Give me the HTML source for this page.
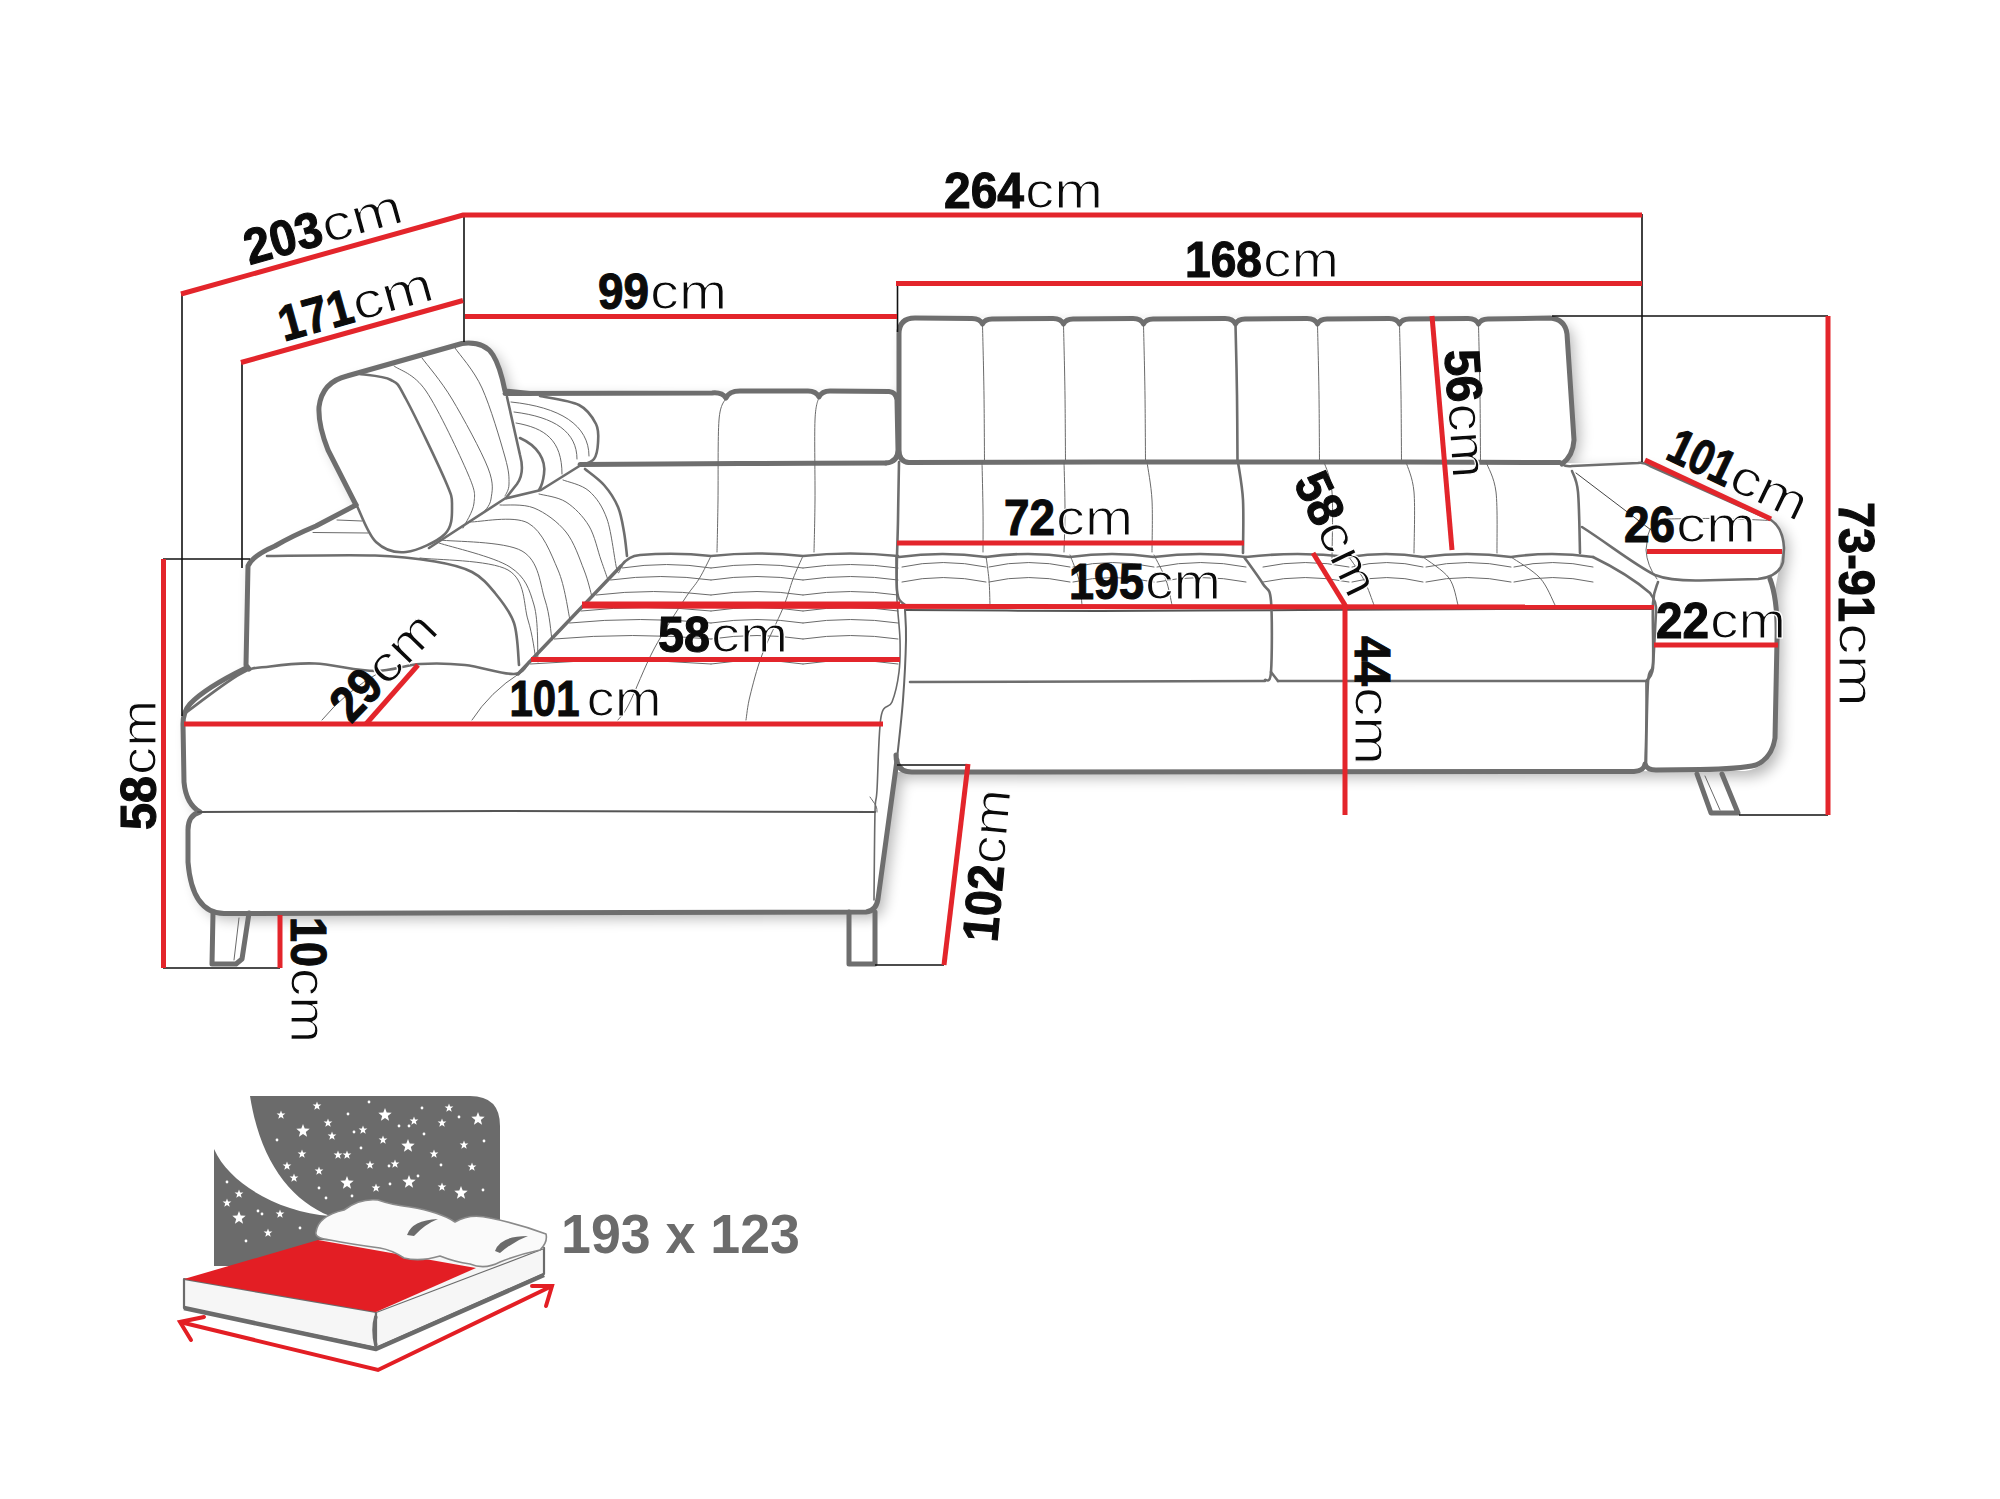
<!DOCTYPE html>
<html><head><meta charset="utf-8"><style>html,body{margin:0;padding:0;background:#fff;width:2000px;height:1499px;overflow:hidden}svg{display:block}</style></head>
<body><svg width="2000" height="1499" viewBox="0 0 2000 1499">
<rect width="2000" height="1499" fill="#fff"/>
<defs><filter id="sh" x="-10%" y="-10%" width="120%" height="120%"><feGaussianBlur stdDeviation="7"/></filter></defs>
<path d="M319,407 Q322,382 347,376 L462,343.5 Q484,341 493,355 Q500,366 505,391 L897,393 L899,334 Q899,318 915,318 L1550,318 Q1565,319 1567,334 L1574,425 Q1575,452 1562,463 L1646,464 L1771,520 Q1783,528 1783,548 L1775,590 L1777,640 L1775,740 Q1770,768 1745,771 L896,772 L878,899 Q876,911 866,912 L224,913.5 Q192,913 188,862 L188,830 Q188,815 200,812 Q186,804 184,782 L183,724 Q183,712 190,704 Q205,688 246,668 L246,568 L249,560 L285,542 L356,505 L328,450 Q318,425 319,407 Z" fill="#000" opacity="0.28" transform="translate(6,6)" filter="url(#sh)"/>
<path d="M319,407 Q322,382 347,376 L462,343.5 Q484,341 493,355 Q500,366 505,391 L897,393 L899,334 Q899,318 915,318 L1550,318 Q1565,319 1567,334 L1574,425 Q1575,452 1562,463 L1646,464 L1771,520 Q1783,528 1783,548 L1775,590 L1777,640 L1775,740 Q1770,768 1745,771 L896,772 L878,899 Q876,911 866,912 L224,913.5 Q192,913 188,862 L188,830 Q188,815 200,812 Q186,804 184,782 L183,724 Q183,712 190,704 Q205,688 246,668 L246,568 L249,560 L285,542 L356,505 L328,450 Q318,425 319,407 Z" fill="#fff"/>
<path d="M909,462.5 Q899,462 899,450 L899,334 Q899,318 915,318 L972,318.5 Q980,318.5 982.5,324 Q985,319 992,319 L1053,318.5 Q1061,318.5 1063.5,324 Q1066,319 1073,319 L1133,318.5 Q1141,318.5 1143.5,324 Q1146,319 1153,319 L1225,318.5 Q1233,318.5 1235.5,324 Q1238,319 1245,319 L1307,318.5 Q1315,318.5 1317.5,324 Q1320,319 1327,319 L1389,318.5 Q1397,318.5 1399.5,324 Q1402,319 1409,319 L1468,318.5 Q1476,318.5 1478.5,324 Q1481,319 1488,319 L1550,318 Q1565,319 1567,334 L1574,440 Q1573,456 1562,464" stroke="#6e6e6e" stroke-width="5.0" fill="none" stroke-linejoin="round" stroke-linecap="round" />
<path d="M982.5,325.0 C982.8,336.7 983.7,372.2 984.0,395.0 C984.3,417.8 984.4,450.8 984.5,462.0" stroke="#6a6a6a" stroke-width="1.0" fill="none" stroke-linejoin="round" stroke-linecap="round" />
<path d="M1063.5,325.0 C1063.8,336.7 1064.7,372.2 1065.0,395.0 C1065.3,417.8 1065.4,450.8 1065.5,462.0" stroke="#6a6a6a" stroke-width="1.0" fill="none" stroke-linejoin="round" stroke-linecap="round" />
<path d="M1143.5,325.0 C1143.8,336.7 1144.7,372.2 1145.0,395.0 C1145.3,417.8 1145.4,450.8 1145.5,462.0" stroke="#6a6a6a" stroke-width="1.0" fill="none" stroke-linejoin="round" stroke-linecap="round" />
<path d="M1235.5,325.0 C1235.8,336.7 1236.7,372.2 1237.0,395.0 C1237.3,417.8 1237.4,450.8 1237.5,462.0" stroke="#6e6e6e" stroke-width="2.6" fill="none" stroke-linejoin="round" stroke-linecap="round" />
<path d="M1317.5,325.0 C1317.8,336.7 1318.7,372.2 1319.0,395.0 C1319.3,417.8 1319.4,450.8 1319.5,462.0" stroke="#6a6a6a" stroke-width="1.0" fill="none" stroke-linejoin="round" stroke-linecap="round" />
<path d="M1399.5,325.0 C1399.8,336.7 1400.7,372.2 1401.0,395.0 C1401.3,417.8 1401.4,450.8 1401.5,462.0" stroke="#6a6a6a" stroke-width="1.0" fill="none" stroke-linejoin="round" stroke-linecap="round" />
<path d="M1478.5,325.0 C1478.8,336.7 1479.7,372.2 1480.0,395.0 C1480.3,417.8 1480.4,450.8 1480.5,462.0" stroke="#6a6a6a" stroke-width="1.0" fill="none" stroke-linejoin="round" stroke-linecap="round" />
<path d="M580.0,464.5 C590.7,464.4 719.6,463.6 740.0,463.5 C760.4,463.4 876.3,463.0 886.0,463.0" stroke="#6e6e6e" stroke-width="5.0" fill="none" stroke-linejoin="round" stroke-linecap="round" />
<path d="M909.0,462.5 C921.7,462.5 1067.3,462.0 1100.0,462.0 C1132.7,462.0 1369.3,462.0 1400.0,462.0 C1430.7,462.0 1549.3,462.5 1560.0,462.5" stroke="#6e6e6e" stroke-width="5.0" fill="none" stroke-linejoin="round" stroke-linecap="round" />
<path d="M505,393.5 L712,393 Q722,392 726,398 Q729,391 740,391 L808,391 Q816,391 819,397 Q822,391 830,391 L889,391.5 Q896,392 897,400 L898,450 Q898,462 886,463" stroke="#6e6e6e" stroke-width="5.0" fill="none" stroke-linejoin="round" stroke-linecap="round" />
<path d="M726.0,398.0 C724.8,401.7 720.3,403.0 719.0,420.0 C717.7,437.0 718.3,478.0 718.0,500.0 C717.7,522.0 717.2,543.3 717.0,552.0" stroke="#6a6a6a" stroke-width="1.0" fill="none" stroke-linejoin="round" stroke-linecap="round" />
<path d="M819.0,397.0 C818.3,400.8 815.7,402.8 815.0,420.0 C814.3,437.2 815.2,478.0 815.0,500.0 C814.8,522.0 814.2,543.3 814.0,552.0" stroke="#6a6a6a" stroke-width="1.0" fill="none" stroke-linejoin="round" stroke-linecap="round" />
<path d="M899.0,462.0 C898.8,471.7 898.3,498.7 898.0,520.0 C897.7,541.3 895.8,575.8 897.0,590.0 C898.2,604.2 903.7,602.5 905.0,605.0" stroke="#6e6e6e" stroke-width="2.6" fill="none" stroke-linejoin="round" stroke-linecap="round" />
<path d="M982.0,462.0 C982.2,470.0 982.8,495.0 983.0,510.0 C983.2,525.0 983.0,545.0 983.0,552.0" stroke="#6a6a6a" stroke-width="1.0" fill="none" stroke-linejoin="round" stroke-linecap="round" />
<path d="M1064.0,462.0 C1064.2,470.0 1065.0,495.0 1065.0,510.0 C1065.0,525.0 1064.2,545.0 1064.0,552.0" stroke="#6a6a6a" stroke-width="1.0" fill="none" stroke-linejoin="round" stroke-linecap="round" />
<path d="M1147.0,462.0 C1147.8,468.3 1151.2,485.0 1152.0,500.0 C1152.8,515.0 1152.0,543.3 1152.0,552.0" stroke="#6a6a6a" stroke-width="1.0" fill="none" stroke-linejoin="round" stroke-linecap="round" />
<path d="M1238.0,462.0 C1238.8,468.3 1242.2,484.8 1243.0,500.0 C1243.8,515.2 1243.0,544.2 1243.0,553.0" stroke="#6e6e6e" stroke-width="2.6" fill="none" stroke-linejoin="round" stroke-linecap="round" />
<path d="M1324.0,462.0 C1325.3,467.0 1330.7,475.8 1332.0,492.0 C1333.3,508.2 1332.0,547.8 1332.0,559.0" stroke="#6a6a6a" stroke-width="1.0" fill="none" stroke-linejoin="round" stroke-linecap="round" />
<path d="M1406.0,462.0 C1407.3,467.0 1412.7,476.8 1414.0,492.0 C1415.3,507.2 1414.0,542.8 1414.0,553.0" stroke="#6a6a6a" stroke-width="1.0" fill="none" stroke-linejoin="round" stroke-linecap="round" />
<path d="M1486.0,462.0 C1487.7,467.0 1494.2,476.8 1496.0,492.0 C1497.8,507.2 1496.8,542.8 1497.0,553.0" stroke="#6a6a6a" stroke-width="1.0" fill="none" stroke-linejoin="round" stroke-linecap="round" />
<path d="M1572.0,471.0 C1573.0,474.5 1576.7,478.3 1578.0,492.0 C1579.3,505.7 1579.7,542.8 1580.0,553.0" stroke="#6e6e6e" stroke-width="2.6" fill="none" stroke-linejoin="round" stroke-linecap="round" />
<path d="M899,557 Q942.5,551 986,557 Q1028.0,551 1070,557 Q1112.0,551 1154,557 Q1200.0,551 1246,557" stroke="#6e6e6e" stroke-width="2.6" fill="none" stroke-linejoin="round" stroke-linecap="round" />
<path d="M1246,557 Q1297.5,551 1349,557 Q1386.0,551 1423,557 Q1467.0,551 1511,557 Q1552.0,551 1593,557" stroke="#6e6e6e" stroke-width="2.6" fill="none" stroke-linejoin="round" stroke-linecap="round" />
<path d="M1593,557 Q1628,574 1650,593 Q1657,602 1656,612 L1653,668 Q1652,676 1647,680" stroke="#6e6e6e" stroke-width="2.6" fill="none" stroke-linejoin="round" stroke-linecap="round" />
<path d="M905.0,610.0 C924.5,610.1 1060.5,611.0 1100.0,611.0 C1139.5,611.0 1260.0,610.2 1300.0,610.0 C1340.0,609.8 1464.8,609.1 1500.0,609.0 C1535.2,608.9 1636.8,609.0 1652.0,609.0" stroke="#555" stroke-width="2.0" fill="none" stroke-linejoin="round" stroke-linecap="round" />
<path d=" M902,567 Q942.5,558 986,567 M989,567 Q1028.0,558 1070,567 M1073,567 Q1112.0,558 1154,567 M1157,567 Q1200.0,558 1246,567" stroke="#6a6a6a" stroke-width="1.0" fill="none" stroke-linejoin="round" stroke-linecap="round" />
<path d=" M902,582 Q942.5,573 986,582 M989,582 Q1028.0,573 1070,582 M1073,582 Q1112.0,573 1154,582 M1157,582 Q1200.0,573 1246,582" stroke="#6a6a6a" stroke-width="1.0" fill="none" stroke-linejoin="round" stroke-linecap="round" />
<path d=" M1263,567 Q1304.5,558 1349,567 M1352,567 Q1386.0,558 1423,567 M1426,567 Q1467.0,558 1511,567 M1514,567 Q1552.0,558 1593,567" stroke="#6a6a6a" stroke-width="1.0" fill="none" stroke-linejoin="round" stroke-linecap="round" />
<path d=" M1263,582 Q1304.5,573 1349,582 M1352,582 Q1386.0,573 1423,582 M1426,582 Q1467.0,573 1511,582 M1514,582 Q1552.0,573 1593,582" stroke="#6a6a6a" stroke-width="1.0" fill="none" stroke-linejoin="round" stroke-linecap="round" />
<path d="M986.0,556.0 C986.5,560.0 988.3,571.8 989.0,580.0 C989.7,588.2 989.8,600.8 990.0,605.0" stroke="#6a6a6a" stroke-width="1.0" fill="none" stroke-linejoin="round" stroke-linecap="round" />
<path d="M1070.0,555.0 C1071.5,559.2 1077.0,571.7 1079.0,580.0 C1081.0,588.3 1081.5,600.8 1082.0,605.0" stroke="#6a6a6a" stroke-width="1.0" fill="none" stroke-linejoin="round" stroke-linecap="round" />
<path d="M1154.0,555.0 C1156.0,559.2 1163.0,571.7 1166.0,580.0 C1169.0,588.3 1171.0,600.8 1172.0,605.0" stroke="#6a6a6a" stroke-width="1.0" fill="none" stroke-linejoin="round" stroke-linecap="round" />
<path d="M1349.0,557.0 C1351.5,560.8 1359.8,572.0 1364.0,580.0 C1368.2,588.0 1372.3,600.8 1374.0,605.0" stroke="#6a6a6a" stroke-width="1.0" fill="none" stroke-linejoin="round" stroke-linecap="round" />
<path d="M1423.0,557.0 C1427.3,560.5 1443.2,570.0 1449.0,578.0 C1454.8,586.0 1456.5,600.5 1458.0,605.0" stroke="#6a6a6a" stroke-width="1.0" fill="none" stroke-linejoin="round" stroke-linecap="round" />
<path d="M1511.0,557.0 C1515.8,560.5 1532.7,570.0 1540.0,578.0 C1547.3,586.0 1552.5,600.5 1555.0,605.0" stroke="#6a6a6a" stroke-width="1.0" fill="none" stroke-linejoin="round" stroke-linecap="round" />
<path d="M1244.0,557.0 C1247.2,561.5 1258.5,576.7 1263.0,584.0 C1267.5,591.3 1269.7,586.3 1271.0,601.0 C1272.3,615.7 1272.0,658.8 1271.0,672.0 C1270.0,685.2 1266.0,678.7 1265.0,680.0" stroke="#6e6e6e" stroke-width="2.6" fill="none" stroke-linejoin="round" stroke-linecap="round" />
<path d="M1271.0,672.0 L1278.0,681.0" stroke="#6e6e6e" stroke-width="2.6" fill="none" stroke-linejoin="round" stroke-linecap="round" />
<path d="M910.0,682.0 L1265.0,681.0" stroke="#6e6e6e" stroke-width="2.6" fill="none" stroke-linejoin="round" stroke-linecap="round" />
<path d="M1278.0,681.0 L1647.0,681.0" stroke="#6e6e6e" stroke-width="2.6" fill="none" stroke-linejoin="round" stroke-linecap="round" />
<path d="M905.0,610.0 C905.2,615.0 906.3,625.0 906.0,640.0 C905.7,655.0 904.5,680.2 903.0,700.0 C901.5,719.8 898.0,749.2 897.0,759.0" stroke="#666" stroke-width="2.0" fill="none" stroke-linejoin="round" stroke-linecap="round" />
<path d="M896,755 Q896,772 912,772 L1634,771.5 Q1644,771 1645,764 Q1647,770 1656,770 L1700,769.5 Q1740,769 1756,765 Q1772,758 1775,738 L1777,640 Q1778,600 1770,579" stroke="#6e6e6e" stroke-width="5.0" fill="none" stroke-linejoin="round" stroke-linecap="round" />
<path d="M1646.0,682.0 C1646.0,688.3 1646.2,706.3 1646.0,720.0 C1645.8,733.7 1645.2,756.7 1645.0,764.0" stroke="#666" stroke-width="1.6" fill="none" stroke-linejoin="round" stroke-linecap="round" />
<path d="M1562,464 Q1566,467 1572,466 L1638,463 Q1644,462 1650,466 L1771,520 Q1783,528 1784,548 L1783,562 Q1779,577 1758,579 L1700,580.5 Q1670,581 1655,575 C1635,565 1610,545 1582,527" stroke="#6e6e6e" stroke-width="2.6" fill="none" stroke-linejoin="round" stroke-linecap="round" />
<path d="M1665.0,519.0 C1674.2,518.9 1702.3,518.2 1720.0,518.5 C1737.7,518.8 1762.5,520.2 1771.0,520.5" stroke="#6a6a6a" stroke-width="1.0" fill="none" stroke-linejoin="round" stroke-linecap="round" />
<path d="M1665,519 Q1650,524 1648,535 L1646,550 Q1647,566 1657,579" stroke="#6a6a6a" stroke-width="1.0" fill="none" stroke-linejoin="round" stroke-linecap="round" />
<path d="M1576.0,473.0 L1651.0,530.0" stroke="#444" stroke-width="1.0" fill="none" stroke-linejoin="round" stroke-linecap="round" />
<path d="M1658.0,582.0 C1657.2,585.5 1653.8,589.5 1653.0,603.0 C1652.2,616.5 1653.8,649.8 1653.0,663.0 C1652.2,676.2 1649.2,664.8 1648.0,682.0 C1646.8,699.2 1646.3,752.0 1646.0,766.0" stroke="#6e6e6e" stroke-width="2.6" fill="none" stroke-linejoin="round" stroke-linecap="round" />
<path d="M1697.0,774.0 L1711.0,813.0 L1738.0,813.0 L1722.0,774.0" stroke="#6e6e6e" stroke-width="5.0" fill="none" stroke-linejoin="round" stroke-linecap="round" />
<path d="M1705.0,776.0 L1720.0,810.0" stroke="#6a6a6a" stroke-width="1.0" fill="none" stroke-linejoin="round" stroke-linecap="round" />
<path d="M621,566 Q628,556 640,555 Q676,552 711,556 Q757,551 803,556 Q850,551 898,556" stroke="#6e6e6e" stroke-width="2.6" fill="none" stroke-linejoin="round" stroke-linecap="round" />
<path d="M621.0,566.0 L518.0,674.0" stroke="#6e6e6e" stroke-width="3.4" fill="none" stroke-linejoin="round" stroke-linecap="round" />
<path d="M896.0,557.0 C896.2,564.2 896.3,586.2 897.0,600.0 C897.7,613.8 899.7,628.0 900.0,640.0 C900.3,652.0 900.3,661.7 899.0,672.0 C897.7,682.3 895.0,694.5 892.0,702.0 C889.0,709.5 883.5,702.3 881.0,717.0 C878.5,731.7 878.0,774.2 877.0,790.0 C876.0,805.8 875.5,793.7 875.0,812.0 C874.5,830.3 874.2,885.3 874.0,900.0" stroke="#6a6a6a" stroke-width="1.6" fill="none" stroke-linejoin="round" stroke-linecap="round" />
<path d="M870.0,797.0 C871.0,798.5 874.8,803.5 876.0,806.0 C877.2,808.5 876.8,811.0 877.0,812.0" stroke="#6a6a6a" stroke-width="1.0" fill="none" stroke-linejoin="round" stroke-linecap="round" />
<path d=" M622.0462962962963,568 Q666.5231481481482,561 711,568 M711,568 Q757.0,561 803,568 M803,568 Q850.5,561 898,568" stroke="#6a6a6a" stroke-width="1.0" fill="none" stroke-linejoin="round" stroke-linecap="round" />
<path d=" M610.6018518518518,580 Q660.8009259259259,573 711,580 M711,580 Q757.0,573 803,580 M803,580 Q850.5,573 898,580" stroke="#6a6a6a" stroke-width="1.0" fill="none" stroke-linejoin="round" stroke-linecap="round" />
<path d=" M596.2962962962963,595 Q653.6481481481482,588 711,595 M711,595 Q757.0,588 803,595 M803,595 Q850.5,588 898,595" stroke="#6a6a6a" stroke-width="1.0" fill="none" stroke-linejoin="round" stroke-linecap="round" />
<path d=" M581.0370370370371,611 Q646.0185185185185,604 711,611 M711,611 Q757.0,604 803,611 M803,611 Q850.5,604 898,611" stroke="#6a6a6a" stroke-width="1.0" fill="none" stroke-linejoin="round" stroke-linecap="round" />
<path d=" M569.5925925925926,623 Q640.2962962962963,616 711,623 M711,623 Q757.0,616 803,623 M803,623 Q850.5,616 898,623" stroke="#6a6a6a" stroke-width="1.0" fill="none" stroke-linejoin="round" stroke-linecap="round" />
<path d=" M554.3333333333334,639 Q632.6666666666667,632 711,639 M711,639 Q757.0,632 803,639 M803,639 Q850.5,632 898,639" stroke="#6a6a6a" stroke-width="1.0" fill="none" stroke-linejoin="round" stroke-linecap="round" />
<path d=" M530.4907407407408,664 Q620.7453703703704,657 711,664 M711,664 Q757.0,657 803,664 M803,664 Q850.5,657 898,664" stroke="#6a6a6a" stroke-width="1.0" fill="none" stroke-linejoin="round" stroke-linecap="round" />
<path d="M711.0,556.0 C709.0,559.8 703.5,571.7 699.0,579.0 C694.5,586.3 691.5,588.3 684.0,600.0 C676.5,611.7 663.2,631.7 654.0,649.0 C644.8,666.3 635.0,692.2 629.0,704.0 C623.0,715.8 619.8,717.3 618.0,720.0" stroke="#6a6a6a" stroke-width="1.0" fill="none" stroke-linejoin="round" stroke-linecap="round" />
<path d="M803.0,556.0 C801.3,559.8 796.3,570.3 793.0,579.0 C789.7,587.7 788.2,595.3 783.0,608.0 C777.8,620.7 767.5,640.3 762.0,655.0 C756.5,669.7 752.7,685.2 750.0,696.0 C747.3,706.8 746.7,716.0 746.0,720.0" stroke="#6a6a6a" stroke-width="1.0" fill="none" stroke-linejoin="round" stroke-linecap="round" />
<path d="M246,668 Q205,688 190,704 Q183,712 183,724 L184,782 Q186,804 200,812 Q188,815 188,830 L188,862 Q192,913 224,913.5 L866,912 Q876,911 878,899 L897,760" stroke="#6e6e6e" stroke-width="5.0" fill="none" stroke-linejoin="round" stroke-linecap="round" />
<path d="M198.0,812.0 C218.1,811.9 454.9,811.0 500.0,811.0 C545.1,811.0 850.0,811.9 875.0,812.0" stroke="#555" stroke-width="2.0" fill="none" stroke-linejoin="round" stroke-linecap="round" />
<path d="M213.0,913.0 L212.0,964.0 L236.0,964.0 L242.0,959.0 L249.0,913.0" stroke="#6e6e6e" stroke-width="5.0" fill="none" stroke-linejoin="round" stroke-linecap="round" />
<path d="M239.0,918.0 L234.0,960.0" stroke="#6a6a6a" stroke-width="1.0" fill="none" stroke-linejoin="round" stroke-linecap="round" />
<path d="M849.0,912.0 L849.0,964.0 L875.0,964.0 L875.0,912.0" stroke="#6e6e6e" stroke-width="5.0" fill="none" stroke-linejoin="round" stroke-linecap="round" />
<path d="M356,505 L316,526 Q292,536 275,546 Q252,556 248,566 L246,665 L249,669" stroke="#6e6e6e" stroke-width="5.0" fill="none" stroke-linejoin="round" stroke-linecap="round" />
<path d="M267.0,556.0 C285.0,555.9 347.0,554.6 375.0,555.5 C403.0,556.4 418.8,558.8 435.0,561.5 C451.2,564.2 462.0,566.8 472.0,572.0 C482.0,577.2 488.0,584.5 495.0,593.0 C502.0,601.5 510.0,611.0 514.0,623.0 C518.0,635.0 518.2,658.0 519.0,665.0" stroke="#6e6e6e" stroke-width="2.6" fill="none" stroke-linejoin="round" stroke-linecap="round" />
<path d="M184.0,714.0 C193.3,707.3 225.7,681.9 240.0,674.0 C254.3,666.1 257.5,668.2 270.0,666.5 C282.5,664.8 297.5,662.8 315.0,663.5 C332.5,664.2 357.5,670.9 375.0,671.0 C392.5,671.1 405.0,665.0 420.0,664.0 C435.0,663.0 449.3,663.3 465.0,665.0 C480.7,666.7 503.3,674.5 514.0,674.0 C524.7,673.5 526.5,664.0 529.0,662.0" stroke="#6e6e6e" stroke-width="2.6" fill="none" stroke-linejoin="round" stroke-linecap="round" />
<path d="M439.0,543.0 C450.8,547.0 494.2,556.7 510.0,567.0 C525.8,577.3 529.3,589.2 534.0,605.0 C538.7,620.8 537.3,652.5 538.0,662.0" stroke="#6a6a6a" stroke-width="1.0" fill="none" stroke-linejoin="round" stroke-linecap="round" />
<path d="M322,720 Q345,692 380,672" stroke="#6a6a6a" stroke-width="1.0" fill="none" stroke-linejoin="round" stroke-linecap="round" />
<path d="M472,720 Q490,692 520,673" stroke="#6a6a6a" stroke-width="1.0" fill="none" stroke-linejoin="round" stroke-linecap="round" />
<path d="M337.0,520.0 L362.0,521.0" stroke="#6a6a6a" stroke-width="1.0" fill="none" stroke-linejoin="round" stroke-linecap="round" />
<path d="M313.0,532.5 L368.0,533.0" stroke="#6a6a6a" stroke-width="1.0" fill="none" stroke-linejoin="round" stroke-linecap="round" />
<path d="M356,505 L328,450 Q318,425 319,407 Q322,382 347,376 L462,343.5 Q484,341 493,355 Q500,366 505,391 L530,393.5" stroke="#6e6e6e" stroke-width="5.0" fill="none" stroke-linejoin="round" stroke-linecap="round" />
<path d="M360.0,374.0 C365.2,375.0 383.3,375.8 391.0,380.0 C398.7,384.2 397.0,382.3 406.0,399.0 C415.0,415.7 437.3,462.2 445.0,480.0 C452.7,497.8 452.0,497.0 452.0,506.0 C452.0,515.0 452.7,526.3 445.0,534.0 C437.3,541.7 417.5,550.7 406.0,552.0 C394.5,553.3 384.2,549.7 376.0,542.0 C367.8,534.3 360.2,512.0 357.0,506.0" stroke="#6e6e6e" stroke-width="2.6" fill="none" stroke-linejoin="round" stroke-linecap="round" />
<path d="M507,397 L520,455 Q525,473 517,484 L506,498" stroke="#6e6e6e" stroke-width="2.6" fill="none" stroke-linejoin="round" stroke-linecap="round" />
<path d="M394.0,366.0 C399.3,370.2 413.7,373.0 426.0,391.0 C438.3,409.0 460.0,455.3 468.0,474.0 C476.0,492.7 474.8,494.0 474.0,503.0 C473.2,512.0 464.8,523.8 463.0,528.0" stroke="#6a6a6a" stroke-width="1.0" fill="none" stroke-linejoin="round" stroke-linecap="round" />
<path d="M422.0,358.0 C427.0,364.8 441.0,380.7 452.0,399.0 C463.0,417.3 481.5,451.3 488.0,468.0 C494.5,484.7 492.0,491.3 491.0,499.0 C490.0,506.7 483.5,511.5 482.0,514.0" stroke="#6a6a6a" stroke-width="1.0" fill="none" stroke-linejoin="round" stroke-linecap="round" />
<path d="M455.0,348.0 C459.5,354.7 473.7,369.8 482.0,388.0 C490.3,406.2 500.5,441.0 505.0,457.0 C509.5,473.0 509.0,477.5 509.0,484.0 C509.0,490.5 505.7,494.0 505.0,496.0" stroke="#6a6a6a" stroke-width="1.0" fill="none" stroke-linejoin="round" stroke-linecap="round" />
<path d="M429.0,548.0 L505.0,498.5 L541.0,490.0 L581.0,465.0" stroke="#6e6e6e" stroke-width="2.6" fill="none" stroke-linejoin="round" stroke-linecap="round" />
<path d="M540.0,396.0 C546.5,397.5 569.7,400.3 579.0,405.0 C588.3,409.7 592.8,417.7 596.0,424.0 C599.2,430.3 598.3,437.2 598.0,443.0 C597.7,448.8 596.8,455.2 594.0,459.0 C591.2,462.8 583.2,464.4 581.0,465.5" stroke="#6e6e6e" stroke-width="2.6" fill="none" stroke-linejoin="round" stroke-linecap="round" />
<path d="M520,438 C538,446 546,460 544,474 C543,482 541,487 539,490" stroke="#6e6e6e" stroke-width="2.6" fill="none" stroke-linejoin="round" stroke-linecap="round" />
<path d="M516,423 C545,428 562,440 562,474" stroke="#6a6a6a" stroke-width="1.0" fill="none" stroke-linejoin="round" stroke-linecap="round" />
<path d="M514,412 C555,417 577,432 577,459" stroke="#6a6a6a" stroke-width="1.0" fill="none" stroke-linejoin="round" stroke-linecap="round" />
<path d="M511,402 C560,407 589,425 589,456" stroke="#6a6a6a" stroke-width="1.0" fill="none" stroke-linejoin="round" stroke-linecap="round" />
<path d="M585.0,469.0 C588.2,471.7 598.5,478.7 604.0,485.0 C609.5,491.3 614.7,499.2 618.0,507.0 C621.3,514.8 622.5,523.8 624.0,532.0 C625.5,540.2 626.5,552.0 627.0,556.0" stroke="#6e6e6e" stroke-width="2.6" fill="none" stroke-linejoin="round" stroke-linecap="round" />
<path d="M563.0,480.0 C567.3,481.8 581.7,484.5 589.0,491.0 C596.3,497.5 602.3,505.8 607.0,519.0 C611.7,532.2 614.7,562.2 617.0,570.0 C619.3,577.8 620.3,566.7 621.0,566.0" stroke="#6a6a6a" stroke-width="1.0" fill="none" stroke-linejoin="round" stroke-linecap="round" />
<path d="M539.0,494.0 C543.5,495.3 557.7,496.7 566.0,502.0 C574.3,507.3 583.2,516.3 589.0,526.0 C594.8,535.7 597.8,551.0 601.0,560.0 C604.2,569.0 606.8,576.7 608.0,580.0" stroke="#6a6a6a" stroke-width="1.0" fill="none" stroke-linejoin="round" stroke-linecap="round" />
<path d="M500.0,505.0 C505.7,505.5 523.0,503.5 534.0,508.0 C545.0,512.5 557.7,521.7 566.0,532.0 C574.3,542.3 579.7,559.2 584.0,570.0 C588.3,580.8 590.7,592.5 592.0,597.0" stroke="#6a6a6a" stroke-width="1.0" fill="none" stroke-linejoin="round" stroke-linecap="round" />
<path d="M470.0,522.0 C479.7,522.2 513.3,515.0 528.0,523.0 C542.7,531.0 551.0,553.8 558.0,570.0 C565.0,586.2 568.0,611.7 570.0,620.0" stroke="#6a6a6a" stroke-width="1.0" fill="none" stroke-linejoin="round" stroke-linecap="round" />
<path d="M440.0,540.0 C453.7,541.8 504.5,541.0 522.0,551.0 C539.5,561.0 540.0,585.2 545.0,600.0 C550.0,614.8 550.8,633.3 552.0,640.0" stroke="#6a6a6a" stroke-width="1.0" fill="none" stroke-linejoin="round" stroke-linecap="round" />
<path d="M420.0,558.0 C434.7,560.0 490.0,559.7 508.0,570.0 C526.0,580.3 523.3,605.0 528.0,620.0 C532.7,635.0 534.7,653.3 536.0,660.0" stroke="#6a6a6a" stroke-width="1.0" fill="none" stroke-linejoin="round" stroke-linecap="round" />
<line x1="182" y1="292" x2="182" y2="716" stroke="#111" stroke-width="1.6" stroke-linecap="butt"/>
<line x1="242" y1="361" x2="242" y2="568" stroke="#111" stroke-width="1.6" stroke-linecap="butt"/>
<line x1="464" y1="214" x2="464" y2="342" stroke="#111" stroke-width="1.6" stroke-linecap="butt"/>
<line x1="897.5" y1="283" x2="897.5" y2="332" stroke="#111" stroke-width="1.6" stroke-linecap="butt"/>
<line x1="1642" y1="214" x2="1642" y2="462" stroke="#111" stroke-width="1.6" stroke-linecap="butt"/>
<line x1="1552" y1="316" x2="1828" y2="316" stroke="#111" stroke-width="1.6" stroke-linecap="butt"/>
<line x1="163" y1="559" x2="250" y2="559" stroke="#111" stroke-width="1.6" stroke-linecap="butt"/>
<line x1="163" y1="968" x2="280" y2="968" stroke="#111" stroke-width="1.6" stroke-linecap="butt"/>
<line x1="875" y1="965" x2="944" y2="965" stroke="#111" stroke-width="1.6" stroke-linecap="butt"/>
<line x1="897" y1="765" x2="968" y2="765" stroke="#111" stroke-width="1.6" stroke-linecap="butt"/>
<line x1="1739" y1="815" x2="1828" y2="815" stroke="#111" stroke-width="1.6" stroke-linecap="butt"/>
<polyline points="181,294 463,215 1642,215" fill="none" stroke="#e3252b" stroke-width="5" stroke-linejoin="miter"/>
<line x1="241" y1="362.5" x2="463" y2="300.5" stroke="#e3252b" stroke-width="5" stroke-linecap="butt"/>
<line x1="465" y1="316.5" x2="897" y2="316.5" stroke="#e3252b" stroke-width="5" stroke-linecap="butt"/>
<line x1="896" y1="283.5" x2="1642" y2="283.5" stroke="#e3252b" stroke-width="5" stroke-linecap="butt"/>
<line x1="1432" y1="316" x2="1452" y2="550" stroke="#e3252b" stroke-width="5" stroke-linecap="butt"/>
<line x1="1645" y1="460" x2="1771" y2="519" stroke="#e3252b" stroke-width="5" stroke-linecap="butt"/>
<line x1="1647" y1="551.5" x2="1782" y2="551.5" stroke="#e3252b" stroke-width="5" stroke-linecap="butt"/>
<line x1="1828" y1="316" x2="1828" y2="815" stroke="#e3252b" stroke-width="5" stroke-linecap="butt"/>
<line x1="1654" y1="645" x2="1778" y2="645" stroke="#e3252b" stroke-width="5" stroke-linecap="butt"/>
<line x1="897" y1="543" x2="1244" y2="543" stroke="#e3252b" stroke-width="5" stroke-linecap="butt"/>
<line x1="582" y1="606" x2="1654" y2="607" stroke="#e3252b" stroke-width="5" stroke-linecap="butt"/>
<line x1="1313" y1="553" x2="1345" y2="605" stroke="#e3252b" stroke-width="5" stroke-linecap="butt"/>
<line x1="1345" y1="604" x2="1345" y2="815" stroke="#e3252b" stroke-width="5" stroke-linecap="butt"/>
<line x1="582" y1="604" x2="900" y2="604" stroke="#e3252b" stroke-width="5" stroke-linecap="butt"/>
<line x1="531" y1="659.5" x2="900" y2="659.5" stroke="#e3252b" stroke-width="5" stroke-linecap="butt"/>
<line x1="184" y1="724" x2="883" y2="724" stroke="#e3252b" stroke-width="5" stroke-linecap="butt"/>
<line x1="366" y1="724" x2="418" y2="665" stroke="#e3252b" stroke-width="5" stroke-linecap="butt"/>
<line x1="163.5" y1="559" x2="163.5" y2="968" stroke="#e3252b" stroke-width="5" stroke-linecap="butt"/>
<line x1="280" y1="915" x2="280" y2="968" stroke="#e3252b" stroke-width="5" stroke-linecap="butt"/>
<line x1="968" y1="764" x2="944" y2="965" stroke="#e3252b" stroke-width="5" stroke-linecap="butt"/>
<g transform="translate(944,207.5) rotate(0)"><text x="0" y="0" font-family="Liberation Sans" font-weight="bold" font-size="50" fill="#0b0b0b" stroke="#0b0b0b" stroke-width="1.1" textLength="80" lengthAdjust="spacingAndGlyphs">264</text><text x="81" y="0" font-family="Liberation Sans" font-size="50" fill="#0b0b0b" stroke="#fff" stroke-width="1.2" textLength="78" lengthAdjust="spacingAndGlyphs">cm</text></g>
<g transform="translate(1185,277) rotate(0)"><text x="0" y="0" font-family="Liberation Sans" font-weight="bold" font-size="50" fill="#0b0b0b" stroke="#0b0b0b" stroke-width="1.1" textLength="77" lengthAdjust="spacingAndGlyphs">168</text><text x="78" y="0" font-family="Liberation Sans" font-size="50" fill="#0b0b0b" stroke="#fff" stroke-width="1.2" textLength="76" lengthAdjust="spacingAndGlyphs">cm</text></g>
<g transform="translate(598,309) rotate(0)"><text x="0" y="0" font-family="Liberation Sans" font-weight="bold" font-size="50" fill="#0b0b0b" stroke="#0b0b0b" stroke-width="1.1" textLength="51" lengthAdjust="spacingAndGlyphs">99</text><text x="52" y="0" font-family="Liberation Sans" font-size="50" fill="#0b0b0b" stroke="#fff" stroke-width="1.2" textLength="77" lengthAdjust="spacingAndGlyphs">cm</text></g>
<g transform="translate(1004,535) rotate(0)"><text x="0" y="0" font-family="Liberation Sans" font-weight="bold" font-size="50" fill="#0b0b0b" stroke="#0b0b0b" stroke-width="1.1" textLength="51" lengthAdjust="spacingAndGlyphs">72</text><text x="52" y="0" font-family="Liberation Sans" font-size="50" fill="#0b0b0b" stroke="#fff" stroke-width="1.2" textLength="77" lengthAdjust="spacingAndGlyphs">cm</text></g>
<g transform="translate(1069,599) rotate(0)"><text x="0" y="0" font-family="Liberation Sans" font-weight="bold" font-size="50" fill="#0b0b0b" stroke="#0b0b0b" stroke-width="1.1" textLength="75" lengthAdjust="spacingAndGlyphs">195</text><text x="76" y="0" font-family="Liberation Sans" font-size="50" fill="#0b0b0b" stroke="#fff" stroke-width="1.2" textLength="76" lengthAdjust="spacingAndGlyphs">cm</text></g>
<g transform="translate(658,652) rotate(0)"><text x="0" y="0" font-family="Liberation Sans" font-weight="bold" font-size="50" fill="#0b0b0b" stroke="#0b0b0b" stroke-width="1.1" textLength="52" lengthAdjust="spacingAndGlyphs">58</text><text x="53" y="0" font-family="Liberation Sans" font-size="50" fill="#0b0b0b" stroke="#fff" stroke-width="1.2" textLength="77" lengthAdjust="spacingAndGlyphs">cm</text></g>
<g transform="translate(509.5,716) rotate(0)"><text x="0" y="0" font-family="Liberation Sans" font-weight="bold" font-size="50" fill="#0b0b0b" stroke="#0b0b0b" stroke-width="1.1" textLength="70" lengthAdjust="spacingAndGlyphs">101</text><text x="77" y="0" font-family="Liberation Sans" font-size="50" fill="#0b0b0b" stroke="#fff" stroke-width="1.2" textLength="75" lengthAdjust="spacingAndGlyphs">cm</text></g>
<g transform="translate(1624,542) rotate(0)"><text x="0" y="0" font-family="Liberation Sans" font-weight="bold" font-size="50" fill="#0b0b0b" stroke="#0b0b0b" stroke-width="1.1" textLength="51" lengthAdjust="spacingAndGlyphs">26</text><text x="52" y="0" font-family="Liberation Sans" font-size="50" fill="#0b0b0b" stroke="#fff" stroke-width="1.2" textLength="80" lengthAdjust="spacingAndGlyphs">cm</text></g>
<g transform="translate(1656,638) rotate(0)"><text x="0" y="0" font-family="Liberation Sans" font-weight="bold" font-size="50" fill="#0b0b0b" stroke="#0b0b0b" stroke-width="1.1" textLength="53" lengthAdjust="spacingAndGlyphs">22</text><text x="54" y="0" font-family="Liberation Sans" font-size="50" fill="#0b0b0b" stroke="#fff" stroke-width="1.2" textLength="76" lengthAdjust="spacingAndGlyphs">cm</text></g>
<g transform="translate(249.5,265) rotate(-15.6)"><text x="0" y="0" font-family="Liberation Sans" font-weight="bold" font-size="50" fill="#0b0b0b" stroke="#0b0b0b" stroke-width="1.1" textLength="79" lengthAdjust="spacingAndGlyphs">203</text><text x="80" y="0" font-family="Liberation Sans" font-size="50" fill="#0b0b0b" stroke="#fff" stroke-width="1.2" textLength="82" lengthAdjust="spacingAndGlyphs">cm</text></g>
<g transform="translate(1839,502) rotate(90)"><text x="0" y="0" font-family="Liberation Sans" font-weight="bold" font-size="50" fill="#0b0b0b" stroke="#0b0b0b" stroke-width="1.1" textLength="120" lengthAdjust="spacingAndGlyphs">73-91</text><text x="121" y="0" font-family="Liberation Sans" font-size="50" fill="#0b0b0b" stroke="#fff" stroke-width="1.2" textLength="84" lengthAdjust="spacingAndGlyphs">cm</text></g>
<g transform="translate(284,341.5) rotate(-15.5)"><text x="0" y="0" font-family="Liberation Sans" font-weight="bold" font-size="50" fill="#0b0b0b" stroke="#0b0b0b" stroke-width="1.1" textLength="75" lengthAdjust="spacingAndGlyphs">171</text><text x="76" y="0" font-family="Liberation Sans" font-size="50" fill="#0b0b0b" stroke="#fff" stroke-width="1.2" textLength="82" lengthAdjust="spacingAndGlyphs">cm</text></g>
<g transform="translate(1444.4,350.4) rotate(86.2)"><text x="0" y="0" font-family="Liberation Sans" font-weight="bold" font-size="50" fill="#0b0b0b" stroke="#0b0b0b" stroke-width="1.1" textLength="53" lengthAdjust="spacingAndGlyphs">56</text><text x="54" y="0" font-family="Liberation Sans" font-size="50" fill="#0b0b0b" stroke="#fff" stroke-width="1.2" textLength="75" lengthAdjust="spacingAndGlyphs">cm</text></g>
<g transform="translate(1664,458) rotate(25.5)"><text x="0" y="0" font-family="Liberation Sans" font-weight="bold" font-size="50" fill="#0b0b0b" stroke="#0b0b0b" stroke-width="1.1" textLength="68" lengthAdjust="spacingAndGlyphs">101</text><text x="69" y="0" font-family="Liberation Sans" font-size="50" fill="#0b0b0b" stroke="#fff" stroke-width="1.2" textLength="80" lengthAdjust="spacingAndGlyphs">cm</text></g>
<g transform="translate(1293,482) rotate(64.5)"><text x="0" y="0" font-family="Liberation Sans" font-weight="bold" font-size="50" fill="#0b0b0b" stroke="#0b0b0b" stroke-width="1.1" textLength="52" lengthAdjust="spacingAndGlyphs">58</text><text x="53" y="0" font-family="Liberation Sans" font-size="50" fill="#0b0b0b" stroke="#fff" stroke-width="1.2" textLength="78" lengthAdjust="spacingAndGlyphs">cm</text></g>
<g transform="translate(1355,636) rotate(90)"><text x="0" y="0" font-family="Liberation Sans" font-weight="bold" font-size="50" fill="#0b0b0b" stroke="#0b0b0b" stroke-width="1.1" textLength="50" lengthAdjust="spacingAndGlyphs">44</text><text x="51" y="0" font-family="Liberation Sans" font-size="50" fill="#0b0b0b" stroke="#fff" stroke-width="1.2" textLength="78" lengthAdjust="spacingAndGlyphs">cm</text></g>
<g transform="translate(997,943) rotate(-84.8)"><text x="0" y="0" font-family="Liberation Sans" font-weight="bold" font-size="50" fill="#0b0b0b" stroke="#0b0b0b" stroke-width="1.1" textLength="77" lengthAdjust="spacingAndGlyphs">102</text><text x="78" y="0" font-family="Liberation Sans" font-size="50" fill="#0b0b0b" stroke="#fff" stroke-width="1.2" textLength="75" lengthAdjust="spacingAndGlyphs">cm</text></g>
<g transform="translate(155.6,830) rotate(-90)"><text x="0" y="0" font-family="Liberation Sans" font-weight="bold" font-size="50" fill="#0b0b0b" stroke="#0b0b0b" stroke-width="1.1" textLength="54" lengthAdjust="spacingAndGlyphs">58</text><text x="55" y="0" font-family="Liberation Sans" font-size="50" fill="#0b0b0b" stroke="#fff" stroke-width="1.2" textLength="75" lengthAdjust="spacingAndGlyphs">cm</text></g>
<g transform="translate(291,917) rotate(90)"><text x="0" y="0" font-family="Liberation Sans" font-weight="bold" font-size="50" fill="#0b0b0b" stroke="#0b0b0b" stroke-width="1.1" textLength="50" lengthAdjust="spacingAndGlyphs">10</text><text x="51" y="0" font-family="Liberation Sans" font-size="50" fill="#0b0b0b" stroke="#fff" stroke-width="1.2" textLength="75" lengthAdjust="spacingAndGlyphs">cm</text></g>
<g transform="translate(351,724.5) rotate(-46)"><text x="0" y="0" font-family="Liberation Sans" font-weight="bold" font-size="50" fill="#0b0b0b" stroke="#0b0b0b" stroke-width="1.1" textLength="50" lengthAdjust="spacingAndGlyphs">29</text><text x="51" y="0" font-family="Liberation Sans" font-size="50" fill="#0b0b0b" stroke="#fff" stroke-width="1.2" textLength="78" lengthAdjust="spacingAndGlyphs">cm</text></g>
<text x="561" y="1253" font-family="Liberation Sans" font-weight="bold" font-size="55" fill="#6b6b6b" textLength="239" lengthAdjust="spacingAndGlyphs">193 x 123</text>
<path d="M250,1096 L470,1096 Q500,1096 500,1126 L500,1266 L214,1266 L214,1149 C230,1185 280,1212 330,1216 C290,1200 260,1160 250,1096 Z" fill="#6b6b6b"/>
<polygon points="303.0,1124.0 304.7,1128.6 309.7,1128.8 305.8,1131.9 307.1,1136.7 303.0,1133.9 298.9,1136.7 300.2,1131.9 296.3,1128.8 301.3,1128.6" fill="#fff"/>
<polygon points="385.0,1108.0 386.7,1112.6 391.7,1112.8 387.8,1115.9 389.1,1120.7 385.0,1117.9 380.9,1120.7 382.2,1115.9 378.3,1112.8 383.3,1112.6" fill="#fff"/>
<polygon points="478.0,1112.0 479.7,1116.6 484.7,1116.8 480.8,1119.9 482.1,1124.7 478.0,1121.9 473.9,1124.7 475.2,1119.9 471.3,1116.8 476.3,1116.6" fill="#fff"/>
<polygon points="408.0,1139.0 409.7,1143.6 414.7,1143.8 410.8,1146.9 412.1,1151.7 408.0,1148.9 403.9,1151.7 405.2,1146.9 401.3,1143.8 406.3,1143.6" fill="#fff"/>
<polygon points="347.0,1176.0 348.7,1180.6 353.7,1180.8 349.8,1183.9 351.1,1188.7 347.0,1185.9 342.9,1188.7 344.2,1183.9 340.3,1180.8 345.3,1180.6" fill="#fff"/>
<polygon points="409.0,1175.0 410.7,1179.6 415.7,1179.8 411.8,1182.9 413.1,1187.7 409.0,1184.9 404.9,1187.7 406.2,1182.9 402.3,1179.8 407.3,1179.6" fill="#fff"/>
<polygon points="461.0,1186.0 462.7,1190.6 467.7,1190.8 463.8,1193.9 465.1,1198.7 461.0,1195.9 456.9,1198.7 458.2,1193.9 454.3,1190.8 459.3,1190.6" fill="#fff"/>
<polygon points="239.0,1211.0 240.7,1215.6 245.7,1215.8 241.8,1218.9 243.1,1223.7 239.0,1220.9 234.9,1223.7 236.2,1218.9 232.3,1215.8 237.3,1215.6" fill="#fff"/>
<polygon points="317.0,1101.4 318.1,1104.4 321.4,1104.6 318.8,1106.6 319.7,1109.7 317.0,1107.9 314.3,1109.7 315.2,1106.6 312.6,1104.6 315.9,1104.4" fill="#fff"/>
<polygon points="281.0,1110.4 282.1,1113.4 285.4,1113.6 282.8,1115.6 283.7,1118.7 281.0,1116.9 278.3,1118.7 279.2,1115.6 276.6,1113.6 279.9,1113.4" fill="#fff"/>
<polygon points="328.0,1118.4 329.1,1121.4 332.4,1121.6 329.8,1123.6 330.7,1126.7 328.0,1124.9 325.3,1126.7 326.2,1123.6 323.6,1121.6 326.9,1121.4" fill="#fff"/>
<polygon points="414.0,1116.4 415.1,1119.4 418.4,1119.6 415.8,1121.6 416.7,1124.7 414.0,1122.9 411.3,1124.7 412.2,1121.6 409.6,1119.6 412.9,1119.4" fill="#fff"/>
<polygon points="449.0,1103.4 450.1,1106.4 453.4,1106.6 450.8,1108.6 451.7,1111.7 449.0,1109.9 446.3,1111.7 447.2,1108.6 444.6,1106.6 447.9,1106.4" fill="#fff"/>
<polygon points="442.0,1118.4 443.1,1121.4 446.4,1121.6 443.8,1123.6 444.7,1126.7 442.0,1124.9 439.3,1126.7 440.2,1123.6 437.6,1121.6 440.9,1121.4" fill="#fff"/>
<polygon points="363.0,1125.4 364.1,1128.4 367.4,1128.6 364.8,1130.6 365.7,1133.7 363.0,1131.9 360.3,1133.7 361.2,1130.6 358.6,1128.6 361.9,1128.4" fill="#fff"/>
<polygon points="332.0,1131.4 333.1,1134.4 336.4,1134.6 333.8,1136.6 334.7,1139.7 332.0,1137.9 329.3,1139.7 330.2,1136.6 327.6,1134.6 330.9,1134.4" fill="#fff"/>
<polygon points="383.0,1135.4 384.1,1138.4 387.4,1138.6 384.8,1140.6 385.7,1143.7 383.0,1141.9 380.3,1143.7 381.2,1140.6 378.6,1138.6 381.9,1138.4" fill="#fff"/>
<polygon points="464.0,1140.4 465.1,1143.4 468.4,1143.6 465.8,1145.6 466.7,1148.7 464.0,1146.9 461.3,1148.7 462.2,1145.6 459.6,1143.6 462.9,1143.4" fill="#fff"/>
<polygon points="302.0,1149.4 303.1,1152.4 306.4,1152.6 303.8,1154.6 304.7,1157.7 302.0,1155.9 299.3,1157.7 300.2,1154.6 297.6,1152.6 300.9,1152.4" fill="#fff"/>
<polygon points="338.0,1150.4 339.1,1153.4 342.4,1153.6 339.8,1155.6 340.7,1158.7 338.0,1156.9 335.3,1158.7 336.2,1155.6 333.6,1153.6 336.9,1153.4" fill="#fff"/>
<polygon points="347.0,1150.4 348.1,1153.4 351.4,1153.6 348.8,1155.6 349.7,1158.7 347.0,1156.9 344.3,1158.7 345.2,1155.6 342.6,1153.6 345.9,1153.4" fill="#fff"/>
<polygon points="434.0,1149.4 435.1,1152.4 438.4,1152.6 435.8,1154.6 436.7,1157.7 434.0,1155.9 431.3,1157.7 432.2,1154.6 429.6,1152.6 432.9,1152.4" fill="#fff"/>
<polygon points="287.0,1161.4 288.1,1164.4 291.4,1164.6 288.8,1166.6 289.7,1169.7 287.0,1167.9 284.3,1169.7 285.2,1166.6 282.6,1164.6 285.9,1164.4" fill="#fff"/>
<polygon points="319.0,1166.4 320.1,1169.4 323.4,1169.6 320.8,1171.6 321.7,1174.7 319.0,1172.9 316.3,1174.7 317.2,1171.6 314.6,1169.6 317.9,1169.4" fill="#fff"/>
<polygon points="370.0,1160.4 371.1,1163.4 374.4,1163.6 371.8,1165.6 372.7,1168.7 370.0,1166.9 367.3,1168.7 368.2,1165.6 365.6,1163.6 368.9,1163.4" fill="#fff"/>
<polygon points="395.0,1159.4 396.1,1162.4 399.4,1162.6 396.8,1164.6 397.7,1167.7 395.0,1165.9 392.3,1167.7 393.2,1164.6 390.6,1162.6 393.9,1162.4" fill="#fff"/>
<polygon points="472.0,1162.4 473.1,1165.4 476.4,1165.6 473.8,1167.6 474.7,1170.7 472.0,1168.9 469.3,1170.7 470.2,1167.6 467.6,1165.6 470.9,1165.4" fill="#fff"/>
<polygon points="294.0,1173.4 295.1,1176.4 298.4,1176.6 295.8,1178.6 296.7,1181.7 294.0,1179.9 291.3,1181.7 292.2,1178.6 289.6,1176.6 292.9,1176.4" fill="#fff"/>
<polygon points="376.0,1183.4 377.1,1186.4 380.4,1186.6 377.8,1188.6 378.7,1191.7 376.0,1189.9 373.3,1191.7 374.2,1188.6 371.6,1186.6 374.9,1186.4" fill="#fff"/>
<polygon points="442.0,1182.4 443.1,1185.4 446.4,1185.6 443.8,1187.6 444.7,1190.7 442.0,1188.9 439.3,1190.7 440.2,1187.6 437.6,1185.6 440.9,1185.4" fill="#fff"/>
<polygon points="239.0,1189.4 240.1,1192.4 243.4,1192.6 240.8,1194.6 241.7,1197.7 239.0,1195.9 236.3,1197.7 237.2,1194.6 234.6,1192.6 237.9,1192.4" fill="#fff"/>
<polygon points="227.0,1198.4 228.1,1201.4 231.4,1201.6 228.8,1203.6 229.7,1206.7 227.0,1204.9 224.3,1206.7 225.2,1203.6 222.6,1201.6 225.9,1201.4" fill="#fff"/>
<polygon points="280.0,1209.4 281.1,1212.4 284.4,1212.6 281.8,1214.6 282.7,1217.7 280.0,1215.9 277.3,1217.7 278.2,1214.6 275.6,1212.6 278.9,1212.4" fill="#fff"/>
<polygon points="268.0,1228.4 269.1,1231.4 272.4,1231.6 269.8,1233.6 270.7,1236.7 268.0,1234.9 265.3,1236.7 266.2,1233.6 263.6,1231.6 266.9,1231.4" fill="#fff"/>
<circle cx="369" cy="1102" r="1.4" fill="#fff"/>
<circle cx="422" cy="1108" r="1.4" fill="#fff"/>
<circle cx="348" cy="1114" r="1.4" fill="#fff"/>
<circle cx="459" cy="1117" r="1.4" fill="#fff"/>
<circle cx="399" cy="1126" r="1.4" fill="#fff"/>
<circle cx="409" cy="1126" r="1.4" fill="#fff"/>
<circle cx="354" cy="1132" r="1.4" fill="#fff"/>
<circle cx="424" cy="1134" r="1.4" fill="#fff"/>
<circle cx="277" cy="1140" r="1.4" fill="#fff"/>
<circle cx="361" cy="1148" r="1.4" fill="#fff"/>
<circle cx="484" cy="1141" r="1.4" fill="#fff"/>
<circle cx="389" cy="1166" r="1.4" fill="#fff"/>
<circle cx="441" cy="1165" r="1.4" fill="#fff"/>
<circle cx="418" cy="1176" r="1.4" fill="#fff"/>
<circle cx="390" cy="1184" r="1.4" fill="#fff"/>
<circle cx="319" cy="1188" r="1.4" fill="#fff"/>
<circle cx="352" cy="1196" r="1.4" fill="#fff"/>
<circle cx="326" cy="1198" r="1.4" fill="#fff"/>
<circle cx="483" cy="1190" r="1.4" fill="#fff"/>
<circle cx="227" cy="1182" r="1.4" fill="#fff"/>
<circle cx="258" cy="1211" r="1.4" fill="#fff"/>
<circle cx="262" cy="1214" r="1.4" fill="#fff"/>
<circle cx="300" cy="1228" r="1.4" fill="#fff"/>
<circle cx="246" cy="1241" r="1.4" fill="#fff"/>
<path d="M184,1279 L376,1312 L376,1348 L184,1308 Z" fill="#f6f6f6" stroke="#6b6b6b" stroke-width="2.2" stroke-linejoin="round"/>
<path d="M376,1312 L544,1248 L544,1274 L376,1348 Z" fill="#f6f6f6" stroke="#6b6b6b" stroke-width="2.2" stroke-linejoin="round"/>
<path d="M184,1308 L376,1349 L544,1275" fill="none" stroke="#6b6b6b" stroke-width="4.5" stroke-linejoin="round"/>
<path d="M376,1316 Q372,1330 376,1346" fill="none" stroke="#6b6b6b" stroke-width="3.5"/>
<path d="M318,1240 L544,1248 L376,1312 Z" fill="#f6f6f6"/>
<path d="M184,1279 L318,1240 L476,1268 L376,1312 Z" fill="#e31e24"/>
<path d="M316,1232 Q318,1216 344,1210 Q360,1198 378,1200 Q392,1205 410,1207 Q440,1212 455,1222 Q470,1213 490,1218 Q520,1224 546,1234 Q548,1242 540,1250 Q520,1254 500,1262 Q485,1270 470,1264 Q455,1262 440,1256 Q420,1262 404,1258 Q392,1250 380,1248 Q350,1244 330,1240 Q314,1238 316,1232 Z" fill="#fafafa" stroke="#8a8a8a" stroke-width="1.6" stroke-linejoin="round"/>
<path d="M407,1235 Q412,1220 438,1219 Q425,1224 414,1236 Z" fill="#6b6b6b"/>
<path d="M495,1251 Q500,1236 528,1236 Q514,1241 500,1253 Z" fill="#6b6b6b"/>
<path d="M180,1322 L378,1370 L552,1286" fill="none" stroke="#e31e24" stroke-width="4" stroke-linejoin="miter"/>
<path d="M204,1317 L180,1322 L191,1340" fill="none" stroke="#e31e24" stroke-width="4" stroke-linecap="round"/>
<path d="M532,1286 L552,1286 L546,1306" fill="none" stroke="#e31e24" stroke-width="4" stroke-linecap="round"/>
</svg></body></html>
